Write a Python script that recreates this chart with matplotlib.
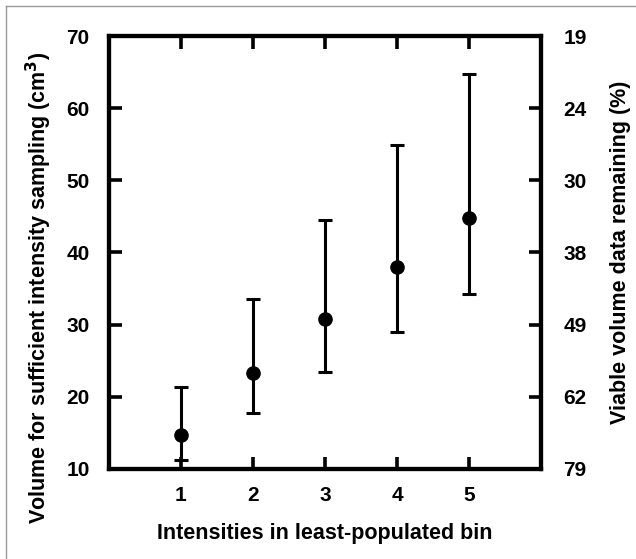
import matplotlib
matplotlib.use("Agg")
import matplotlib.pyplot as plt
from matplotlib.lines import Line2D

plt.rcParams['font.family'] = ['Liberation Sans', 'DejaVu Sans']

bins = [1, 2, 3, 4, 5]
volume = [14.7, 23.3, 30.8, 38.0, 44.8]
err_low = [11.2, 17.7, 23.5, 29.0, 34.2]
err_high = [21.3, 33.5, 44.5, 54.9, 64.7]
left_ticks = [10, 20, 30, 40, 50, 60, 70]
right_labels = ['79', '62', '49', '38', '30', '24', '19']

fig = plt.figure(figsize=(6.36, 5.59), dpi=100)
ax = fig.add_axes([109/636, 1-469/559, (541-109)/636, (469-36)/559])

yerr = [[v - lo for v, lo in zip(volume, err_low)],
        [hi - v for v, hi in zip(volume, err_high)]]
ax.errorbar(bins, volume, yerr=yerr, fmt='o', color='black', ms=9.5,
            elinewidth=2.2, capsize=4.7, capthick=2.2)

ax.set_xlim(0, 6)
ax.set_ylim(10, 70)
ax.set_xticks(bins)
ax.set_yticks(left_ticks)
for s in ax.spines.values():
    s.set_linewidth(3)
ax.tick_params(axis='both', direction='in', length=9, width=2.6,
               labelsize=15, pad=14)
ax.tick_params(axis='x', top=True, pad=12)
for lab in ax.get_xticklabels() + ax.get_yticklabels():
    lab.set_fontweight('bold')

ax2 = ax.twinx()
ax2.set_ylim(10, 70)
ax2.set_yticks(left_ticks)
ax2.set_yticklabels(right_labels, fontweight='bold')
ax2.tick_params(axis='y', direction='in', length=9, width=2.6, labelsize=15, pad=16)
for s in ax2.spines.values():
    s.set_linewidth(3)

ax.set_xlabel('Intensities in least-populated bin', fontsize=15.5, fontweight='bold', labelpad=13)
ax.set_ylabel('Volume for sufficient intensity sampling (cm$^\\mathbf{3}$)', fontsize=15.5, fontweight='bold')
ax.yaxis.set_label_coords(-0.127, 0.418)
ax2.set_ylabel('Viable volume data remaining (%)', fontsize=15.5, fontweight='bold', labelpad=17)

fig.add_artist(Line2D([6/636, 6/636], [0, 1-6/559], color='#999999', lw=1, transform=fig.transFigure))
fig.add_artist(Line2D([6/636, 1], [1-6/559, 1-6/559], color='#999999', lw=1, transform=fig.transFigure))

fig.savefig('out.png', dpi=100)
